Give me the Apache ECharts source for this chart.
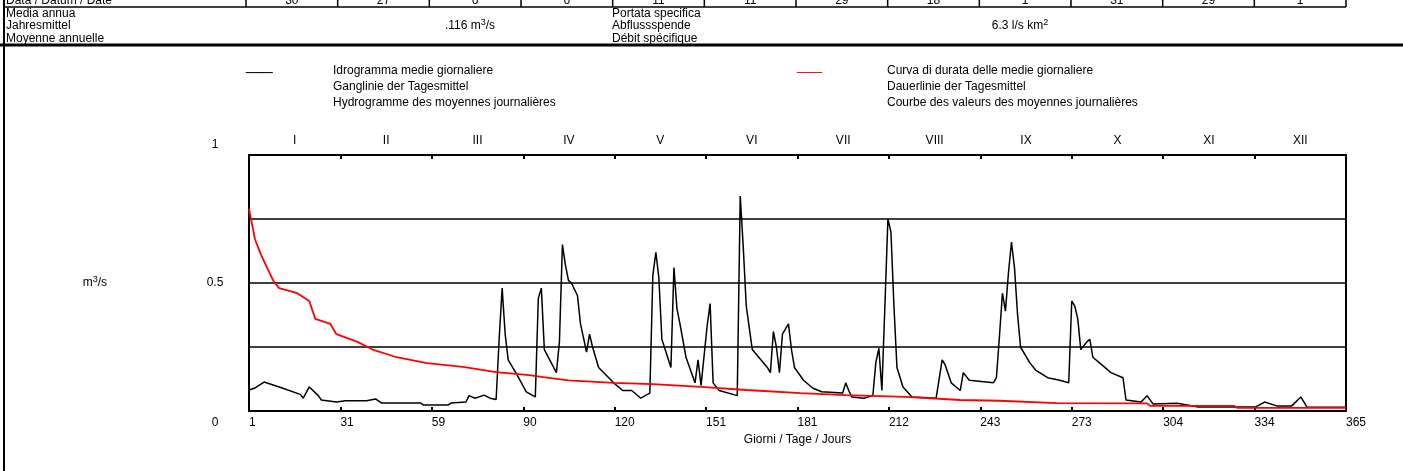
<!DOCTYPE html>
<html><head><meta charset="utf-8">
<script src="https://cdn.jsdelivr.net/npm/echarts@6/dist/echarts.min.js"></script>
<style>html,body{margin:0;padding:0;background:#fff}#c{width:1403px;height:471px}</style>
</head><body><div id="c"></div>
<script>
const monthLabels = ['I','II','III','IV','V','VI','VII','VIII','IX','X','XI','XII'];
const dayTickLabels = ['1','31','59','90','120','151','181','212','243','273','304','334','365'];
const dateRowValues = ['30','27','6','6','11','11','29','18','1','31','29','1'];
const yLabelValues = [0, 0.5, 1];

const hydroDays = [1,3,6,12,18,19,21,24,25,30,33,40,43,45,58,59,67,68,73,74,76,79,81,83,84,85,86,87,90,93,96,97,98,99,103,104,105,106,107,108,110,111,113,114,115,117,122,125,128,131,134,135,136,137,138,141,142,143,144,146,149,150,151,153,154,155,157,163,164,165,166,168,173,174,175,176,177,178,180,181,182,185,188,191,198,199,200,201,205,208,209,210,211,212,213,214,215,216,218,221,229,231,232,234,237,238,240,248,249,250,251,252,253,254,255,256,257,260,262,266,270,273,274,275,276,277,279,280,281,284,287,291,292,297,299,301,309,316,335,338,342,347,350,352,365];
const hydroValues = [0.082,0.09,0.113,0.09,0.065,0.05,0.094,0.06,0.043,0.035,0.04,0.04,0.047,0.031,0.031,0.023,0.023,0.031,0.035,0.06,0.05,0.062,0.05,0.045,0.28,0.48,0.3,0.2,0.14,0.075,0.055,0.44,0.48,0.24,0.15,0.27,0.65,0.57,0.51,0.5,0.45,0.34,0.23,0.3,0.25,0.17,0.11,0.08,0.08,0.05,0.07,0.53,0.62,0.52,0.28,0.17,0.56,0.4,0.34,0.21,0.11,0.2,0.1,0.33,0.42,0.11,0.08,0.06,0.84,0.64,0.41,0.24,0.17,0.15,0.31,0.25,0.15,0.3,0.34,0.24,0.17,0.12,0.09,0.075,0.07,0.11,0.08,0.055,0.05,0.06,0.19,0.245,0.08,0.41,0.75,0.7,0.41,0.17,0.094,0.055,0.05,0.2,0.18,0.11,0.08,0.15,0.12,0.11,0.13,0.29,0.46,0.39,0.54,0.66,0.56,0.38,0.25,0.19,0.16,0.13,0.12,0.11,0.43,0.41,0.36,0.24,0.27,0.28,0.21,0.18,0.15,0.13,0.043,0.035,0.06,0.027,0.03,0.016,0.016,0.035,0.02,0.02,0.055,0.016,0.015];

const durationDays = [1,2,3,5,9,11,17,21,23,28,30,37,42,50,60,72,83,94,98,107,122,135,151,166,184,199,219,237,250,269,299,300,328,329,365];
const durationValues = [0.79,0.73,0.67,0.61,0.51,0.48,0.46,0.43,0.36,0.34,0.30,0.27,0.24,0.21,0.187,0.172,0.152,0.14,0.133,0.12,0.11,0.105,0.094,0.082,0.07,0.062,0.055,0.043,0.04,0.031,0.03,0.02,0.02,0.012,0.012];

const FONT = 'Liberation Sans';
const supStyle = {sup: {fontSize: 9, fontFamily: FONT, fill: '#000', padding: [0, 0, 7, 0]}};
const txt = (text, x, y, opts) => Object.assign({
  type: 'text', x: x, y: y, silent: true,
  style: Object.assign({text: text, fontSize: 12, fontFamily: FONT, fill: '#000', align: 'left', verticalAlign: 'middle'}, opts || {})
});
const ln = (x1, y1, x2, y2, w, c) => ({type: 'line', silent: true, shape: {x1, y1, x2, y2}, style: {stroke: c || '#000', lineWidth: w}});

const cellLeft = 246, cellW = (1346 - 246) / 12;
const graphics = [];
graphics.push(ln(4, 0, 4, 471, 2));
graphics.push(ln(4, 7, 1346, 7, 1.5));
for (let k = 0; k <= 12; k++) graphics.push(ln(cellLeft + k * cellW, 0, cellLeft + k * cellW, 7, 1.5));
graphics.push(txt('Data / Datum / Date', 6, 1));
dateRowValues.forEach((v, k) => graphics.push(txt(v, cellLeft + (k + 0.5) * cellW, 1, {align: 'center'})));
graphics.push(txt('Media annua\nJahresmittel\nMoyenne annuelle', 6, 26, {lineHeight: 12.5}));
graphics.push(txt('.116 m{sup|3}/s', 470, 26, {align: 'center', rich: supStyle}));
graphics.push(txt('Portata specifica\nAbflussspende\nDébit spécifique', 612, 26, {lineHeight: 12.5}));
graphics.push(txt('6.3 l/s km{sup|2}', 1020, 26, {align: 'center', rich: supStyle}));
graphics.push(ln(0, 45, 1403, 45, 3));
graphics.push(txt('___', 246, 66, {fontSize: 16}));
graphics.push(txt('Idrogramma medie giornaliere\nGanglinie der Tagesmittel\nHydrogramme des moyennes journalières', 333, 87, {lineHeight: 16}));
graphics.push(txt('___', 797, 66, {fontSize: 15, fill: '#ff0000'}));
graphics.push(txt('Curva di durata delle medie giornaliere\nDauerlinie der Tagesmittel\nCourbe des valeurs des moyennes journalières', 887, 87, {lineHeight: 16}));

const labelStyle = {color: '#000', fontSize: 12, fontFamily: FONT};
const chart = echarts.init(document.getElementById('c'), null, {renderer: 'canvas'});
chart.setOption({
  animation: false,
  backgroundColor: '#fff',
  grid: {left: 249, right: 57, top: 155, bottom: 60, show: true, borderColor: '#000', borderWidth: 2, containLabel: false, outerBoundsMode: 'none'},
  xAxis: [
    {type: 'value', min: 1, max: 365, show: false},
    {type: 'value', min: 0, max: 12, interval: 1, position: 'bottom',
     axisLine: {show: true, onZero: false, lineStyle: {color: '#000', width: 2}},
     axisTick: {show: true, inside: true, length: 4, lineStyle: {color: '#000', width: 2}},
     axisLabel: Object.assign({formatter: v => dayTickLabels[Math.round(v)], align: 'left', margin: 6, showMinLabel: true, showMaxLabel: true}, labelStyle),
     splitLine: {show: false},
     name: 'Giorni / Tage / Jours', nameLocation: 'middle', nameGap: 23, nameTextStyle: labelStyle},
    {type: 'category', data: monthLabels, position: 'top', boundaryGap: true,
     axisLine: {show: true, lineStyle: {color: '#000', width: 2}},
     axisTick: {show: true, inside: true, length: 4, lineStyle: {color: '#000', width: 2}},
     axisLabel: Object.assign({interval: 0, margin: 8}, labelStyle),
     splitLine: {show: false}}
  ],
  yAxis: {type: 'value', min: 0, max: 1, interval: 0.25,
    axisLine: {show: false}, axisTick: {show: false},
    splitLine: {show: true, lineStyle: {color: '#000', width: 1.5}},
    axisLabel: Object.assign({
      align: 'center', margin: 34, showMinLabel: true, showMaxLabel: true,
      formatter: v => {
        const i = yLabelValues.indexOf(v);
        if (i < 0) return '';
        const s = String(yLabelValues[i]);
        if (v === 1) return '{hi|' + s + '}';
        if (v === 0) return '{lo|' + s + '}';
        return s;
      },
      rich: {hi: {padding: [0, 0, 20, 0], fontSize: 12, fontFamily: FONT, color: '#000'},
             lo: {padding: [24, 0, 0, 0], fontSize: 12, fontFamily: FONT, color: '#000'}}
    }, labelStyle),
    name: 'm{sup|3}/s', nameLocation: 'middle', nameRotate: 0, nameGap: 142,
    nameTextStyle: Object.assign({rich: {sup: {fontSize: 9, fontFamily: FONT, color: '#000', padding: [0, 0, 7, 0]}}}, labelStyle)},
  series: [
    {type: 'line', xAxisIndex: 0, symbol: 'none', silent: true,
     data: hydroDays.map((d, i) => [d, hydroValues[i]]),
     lineStyle: {color: '#000', width: 1.5}},
    {type: 'line', xAxisIndex: 0, symbol: 'none', silent: true,
     data: durationDays.map((d, i) => [d, durationValues[i]]),
     lineStyle: {color: '#ff0000', width: 1.8}}
  ],
  graphic: graphics
});
</script></body></html>
